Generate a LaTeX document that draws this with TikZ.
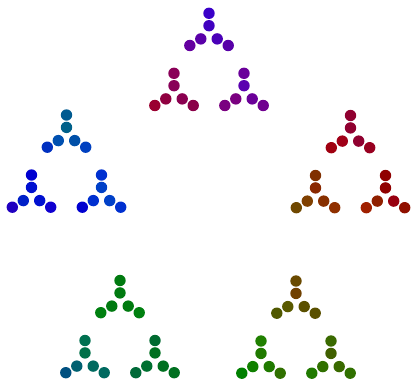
\documentclass[tikz,border=0pt]{standalone}
\begin{document}
\newcommand\dotat[4]{\definecolor{dc}{HTML}{#4}\node[dotst, fill=dc] (#1) at (#2,#3) {};}
\newcommand\tripod[9]{%
  \begin{scope}[shift={(#2,#3)}]
    \dotat{#1a}{0}{0}{#4}
    \dotat{#1b}{0}{12.4}{#5}
    \dotat{#1c}{-8.2}{25.6}{#6}
    \dotat{#1d}{-19.2}{32.2}{#7}
    \dotat{#1e}{8.2}{25.6}{#8}
    \dotat{#1f}{19.2}{32.2}{#9}
  \end{scope}}
\begin{tikzpicture}[x=1pt,y=-1pt,
  dotst/.style={circle, inner sep=0pt, minimum size=11.4pt, draw=none}]
\useasboundingbox (0,0) rectangle (411,380);
% top group
\tripod{ta}{209}{13.3}{3A00C8}{4000C0}{5A00A8}{6400A0}{4A00B8}{5800A8}
\tripod{tb}{174}{73.3}{8A0058}{880058}{900040}{9A0030}{8A0050}{8A0048}
\tripod{tc}{244}{73.3}{6A009A}{5A00B0}{7A0080}{7A0080}{6A0098}{700090}
% left group
\tripod{la}{66.5}{115}{005A90}{00608A}{0050B0}{0030C0}{0050A8}{0040C0}
\tripod{lb}{31.5}{175}{0000D0}{0010D0}{0020C8}{2000C0}{0010D0}{1000D0}
\tripod{lc}{101.5}{175}{0030D0}{0040C8}{0030D0}{0000D0}{0040C8}{0030D0}
% right group
\tripod{ra}{350.5}{115.5}{900030}{900030}{A00018}{A00010}{900030}{980020}
\tripod{rb}{315.5}{175.5}{803000}{8A2800}{804000}{704800}{883000}{903000}
\tripod{rc}{385.5}{175.5}{900000}{900000}{902000}{A02000}{980010}{901000}
% bottom-left group
\tripod{ba}{120}{280.5}{007A10}{007A10}{007A10}{008010}{007A10}{008010}
\tripod{bb}{85}{340.5}{007050}{007048}{006070}{005080}{006A60}{006A60}
\tripod{bc}{155}{340.5}{006A30}{007020}{007030}{006A38}{007020}{007020}
% bottom-right group
\tripod{ca}{296}{281}{6A4A00}{704000}{5A5A00}{505800}{5A5000}{5A5000}
\tripod{cb}{261}{341}{208000}{207A00}{108000}{008000}{207A00}{307000}
\tripod{cc}{331}{341}{3A6A00}{406000}{307000}{207A00}{3A6A00}{307000}
\end{tikzpicture}
\end{document}
